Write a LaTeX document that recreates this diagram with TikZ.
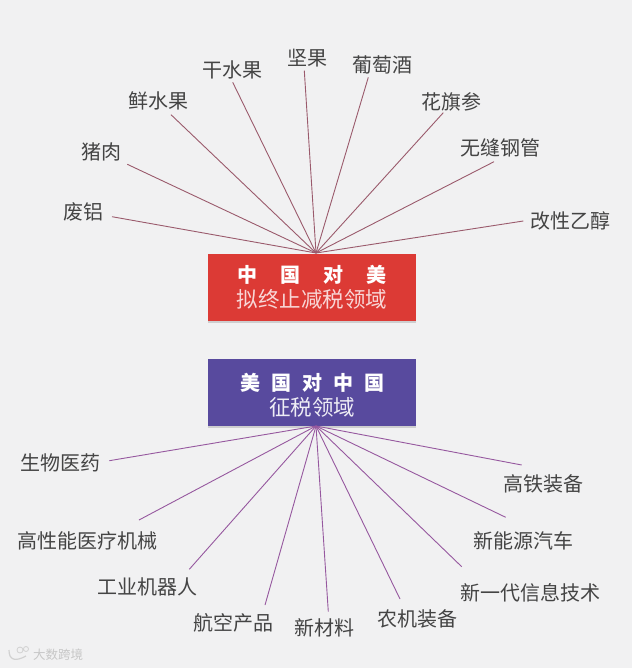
\documentclass[tikz,border=0pt]{standalone}
\usepackage{fontspec}
\setmainfont{Noto Sans CJK SC}
\usetikzlibrary{shadows, calc}
\definecolor{pagebg}{HTML}{F1F1F2}
\definecolor{boxred}{HTML}{DC3A35}
\definecolor{boxblue}{HTML}{584A9E}
\definecolor{linered}{HTML}{9A5A6C}
\definecolor{lineblue}{HTML}{96589F}
\definecolor{labelgray}{HTML}{444444}
\tikzset{
  % --- title boxes ---
  tariffbox/.style={
    minimum width=208pt, minimum height=67pt, inner sep=0pt, align=center,
    text=white, font=\fontsize{21.5}{25}\selectfont,
    drop shadow={shadow xshift=0pt, shadow yshift=-2pt, opacity=0.3},
  },
  % --- item labels ---
  itemlabel/.style={font=\fontsize{20}{22}\selectfont, text=labelgray, inner sep=0pt},
  % --- rays ---
  redray/.style={linered, line width=0.9pt},
  blueray/.style={lineblue, line width=0.9pt},
}
\begin{document}
\begin{tikzpicture}[x=1pt, y=-1pt]
  \useasboundingbox[fill=pagebg] (0,0) rectangle (632,668);

  % ---- Title boxes ----
  \node[tariffbox, fill=boxred] (cnbox) at (312,287.7) {
    {\fontsize{20}{25}\selectfont\bfseries 中\hspace{23.3pt}国\hspace{23.3pt}对\hspace{23.3pt}美}\\
    {\color{white!80!boxred}拟终止减税领域}
  };
  \node[tariffbox, fill=boxblue] (usbox) at (312,392.5) {
    \rule{0pt}{22pt}{\fontsize{20}{25}\selectfont\bfseries 美\hspace{11pt}国\hspace{11pt}对\hspace{11pt}中\hspace{11pt}国}\\
    {\color{white!90!boxblue}征税领域}
  };
  \coordinate (cnhub) at (316,253);
  \coordinate (ushub) at (316,426);

  % ---- China side labels ----
  \node[itemlabel] (feilv) at (83,212) {废铝};
  \node[itemlabel] (zhurou) at (101,151.5) {猪肉};
  \node[itemlabel] (xianshuiguo) at (158,101) {鲜水果};
  \node[itemlabel] (ganshuiguo) at (232,70) {干水果};
  \node[itemlabel] (jianguo) at (307.5,58) {坚果};
  \node[itemlabel] (putaojiu) at (382,65) {葡萄酒};
  \node[itemlabel] (huaqishen) at (451.5,101.7) {花旗参};
  \node[itemlabel] (gangguan) at (500,148) {无缝钢管};
  \node[itemlabel] (yichun) at (570,221) {改性乙醇};

  % ---- US side labels ----
  \node[itemlabel] (shengwu) at (60,463.3) {生物医药};
  \node[itemlabel] (yiliao) at (87,540.7) {高性能医疗机械};
  \node[itemlabel] (jiqiren) at (147.5,587.3) {工业机器人};
  \node[itemlabel] (hangkong) at (233.3,622.7) {航空产品};
  \node[itemlabel] (cailiao) at (324,628) {新材料};
  \node[itemlabel] (nongji) at (417,619.3) {农机装备};
  \node[itemlabel] (xinxi) at (530.5,593.3) {新一代信息技术};
  \node[itemlabel] (qiche) at (523,540.7) {新能源汽车};
  \node[itemlabel] (gaotie) at (543,484.3) {高铁装备};

  % ---- Rays, each stopping a little short of its label ----
  \foreach \c/\dx/\dy in {feilv/29/4.7, zhurou/26.3/12.8, xianshuiguo/13/13.7,
    ganshuiguo/0.7/12.3, jianguo/-3.2/12.7, putaojiu/-13.7/12.3,
    huaqishen/-8.2/11, gangguan/-6/13.7, yichun/-46.7/0}{
    \draw[redray] (cnhub) -- ($(\c)+(\dx,\dy)$);
  }
  \foreach \c/\dx/\dy in {shengwu/49.3/-2.6, yiliao/52/-20.7, jiqiren/41.8/-18,
    hangkong/31.7/-17.7, cailiao/4.3/-16.3, nongji/-17/-20.3,
    xinxi/-68.8/-26.6, qiche/-17.3/-23.4, gaotie/-21.3/-19.3}{
    \draw[blueray] (ushub) -- ($(\c)+(\dx,\dy)$);
  }

  % ---- Watermark ----
  \node[font=\fontsize{12.5}{14}\selectfont, text=black!22, inner sep=0pt] (mark) at (58,655) {大数跨境};
  \draw[black!18, line width=1.2pt] (9,650) .. controls (9,660) and (15,662) .. (26,656);
  \draw[black!18, line width=0.8pt] (20,650) circle (3pt) (26,649) circle (2.5pt);
\end{tikzpicture}
\end{document}
